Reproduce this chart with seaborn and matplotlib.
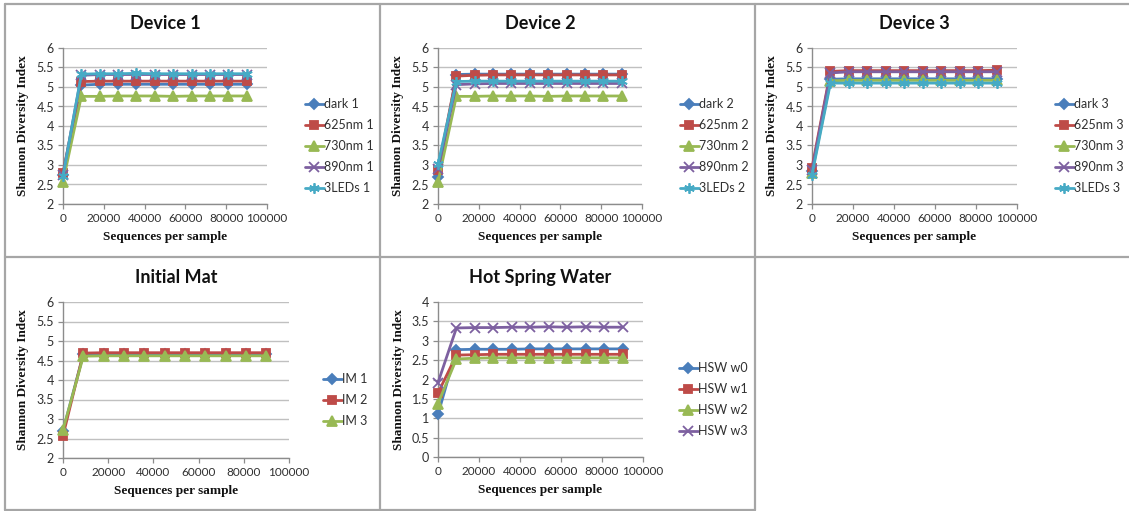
import numpy as np
import pandas as pd
import seaborn as sns
import matplotlib
matplotlib.use("Agg")
from matplotlib import pyplot as plt
from matplotlib.lines import Line2D
from matplotlib.ticker import FuncFormatter, MultipleLocator

# sequences per sample (rarefaction depth)
seqs = [0, 9000, 18000, 27000, 36000, 45000, 54000, 63000, 72000, 81000, 90000]

# Device 1
dark_1 = [2.75, 5.05, 5.07, 5.07, 5.07, 5.07, 5.07, 5.07, 5.07, 5.07, 5.07]
nm625_1 = [2.80, 5.14, 5.15, 5.15, 5.15, 5.15, 5.15, 5.15, 5.15, 5.15, 5.15]
nm730_1 = [2.57, 4.76, 4.76, 4.77, 4.77, 4.77, 4.76, 4.77, 4.77, 4.77, 4.77]
nm890_1 = [2.74, 5.30, 5.32, 5.32, 5.32, 5.32, 5.32, 5.32, 5.32, 5.32, 5.32]
leds_1 = [2.72, 5.33, 5.34, 5.34, 5.35, 5.34, 5.34, 5.34, 5.34, 5.34, 5.34]

# Device 2
dark_2 = [2.68, 5.32, 5.33, 5.33, 5.33, 5.33, 5.33, 5.33, 5.33, 5.33, 5.33]
nm625_2 = [2.88, 5.28, 5.30, 5.31, 5.31, 5.31, 5.31, 5.31, 5.31, 5.31, 5.31]
nm730_2 = [2.56, 4.76, 4.76, 4.77, 4.77, 4.77, 4.76, 4.77, 4.77, 4.77, 4.77]
nm890_2 = [2.90, 5.06, 5.08, 5.09, 5.09, 5.09, 5.09, 5.09, 5.09, 5.09, 5.09]
leds_2 = [3.02, 5.14, 5.15, 5.15, 5.15, 5.15, 5.15, 5.15, 5.15, 5.15, 5.15]

# Device 3
dark_3 = [2.85, 5.20, 5.21, 5.21, 5.21, 5.21, 5.21, 5.21, 5.21, 5.21, 5.21]
nm625_3 = [2.93, 5.40, 5.42, 5.42, 5.42, 5.42, 5.42, 5.42, 5.42, 5.42, 5.43]
nm730_3 = [2.80, 5.16, 5.17, 5.17, 5.17, 5.17, 5.17, 5.17, 5.17, 5.17, 5.17]
nm890_3 = [2.86, 5.36, 5.39, 5.39, 5.39, 5.39, 5.39, 5.39, 5.39, 5.39, 5.39]
leds_3 = [2.75, 5.10, 5.10, 5.10, 5.10, 5.10, 5.10, 5.10, 5.10, 5.10, 5.10]

# Initial mat
im_1 = [2.70, 4.66, 4.66, 4.66, 4.66, 4.66, 4.66, 4.66, 4.66, 4.66, 4.66]
im_2 = [2.57, 4.69, 4.70, 4.70, 4.70, 4.70, 4.70, 4.70, 4.70, 4.70, 4.70]
im_3 = [2.72, 4.61, 4.62, 4.62, 4.62, 4.62, 4.62, 4.62, 4.62, 4.62, 4.62]

# Hot spring water
hsw_w0 = [1.10, 2.77, 2.78, 2.78, 2.78, 2.79, 2.79, 2.79, 2.79, 2.79, 2.79]
hsw_w1 = [1.65, 2.63, 2.64, 2.65, 2.65, 2.65, 2.65, 2.65, 2.65, 2.65, 2.65]
hsw_w2 = [1.38, 2.53, 2.55, 2.56, 2.56, 2.56, 2.56, 2.56, 2.56, 2.56, 2.56]
hsw_w3 = [1.92, 3.33, 3.34, 3.34, 3.35, 3.35, 3.36, 3.35, 3.36, 3.35, 3.35]

BLUE, RED, GREEN, PURPLE, CYAN = "#4a7ebb", "#be4b48", "#98b954", "#7d60a0", "#46aac5"
COLS = [BLUE, RED, GREEN, PURPLE, CYAN]
MARKS = ["D", "s", "^", "x", (6, 2, 0)]
SIZES = [5, 6, 6.5, 6.5, 7.5]

panels = [
    ("Device 1", {"dark 1": dark_1, "625nm 1": nm625_1, "730nm 1": nm730_1,
                  "890nm 1": nm890_1, "3LEDs 1": leds_1},
     (63, 267, 48, 204), (2, 6), 1.186),
    ("Device 2", {"dark 2": dark_2, "625nm 2": nm625_2, "730nm 2": nm730_2,
                  "890nm 2": nm890_2, "3LEDs 2": leds_2},
     (438, 642, 48, 204), (2, 6), 1.186),
    ("Device 3", {"dark 3": dark_3, "625nm 3": nm625_3, "730nm 3": nm730_3,
                  "890nm 3": nm890_3, "3LEDs 3": leds_3},
     (812, 1017, 48, 204), (2, 6), 1.185),
    ("Initial Mat", {"IM 1": im_1, "IM 2": im_2, "IM 3": im_3},
     (63, 289, 302, 458), (2, 6), 1.15),
    ("Hot Spring Water", {"HSW w0": hsw_w0, "HSW w1": hsw_w1,
                          "HSW w2": hsw_w2, "HSW w3": hsw_w3},
     (438, 643, 302, 457), (0, 4), 1.176),
]

sns.set_theme(style="white")
plt.rcParams["font.family"] = ["Lato", "DejaVu Sans"]

W, H = 1129, 511
fig = plt.figure(figsize=(W / 100, H / 100), dpi=100)

for title, series, (x0, x1, y0, y1), ylim, leg_x in panels:
    ax = fig.add_axes([x0 / W, 1 - y1 / H, (x1 - x0) / W, (y1 - y0) / H])
    for i, (name, vals) in enumerate(series.items()):
        df = pd.DataFrame({"seq": seqs, "shannon": vals})
        sns.lineplot(data=df, x="seq", y="shannon", color=COLS[i],
                     marker=MARKS[i], markersize=SIZES[i],
                     markeredgecolor=COLS[i], markeredgewidth=1.3,
                     linewidth=2.0, label=name, ax=ax, clip_on=False,
                     zorder=3 + i)

    ax.set_xlim(0, 100000)
    ax.set_ylim(*ylim)
    ax.xaxis.set_major_locator(MultipleLocator(20000))
    ax.yaxis.set_major_locator(MultipleLocator(0.5))
    ax.yaxis.set_major_formatter(FuncFormatter(lambda v, p: f"{v:g}"))
    ax.grid(True, axis="y", color="#c0c0c0", linewidth=1.0)
    ax.set_axisbelow(True)
    for s in ["top", "right"]:
        ax.spines[s].set_visible(False)
    for s in ["left", "bottom"]:
        ax.spines[s].set_color("#8c8c8c")
        ax.spines[s].set_linewidth(1.0)
    ax.tick_params(axis="both", which="major", direction="out", length=3.5,
                   width=0.9, color="#8c8c8c", labelsize=8.5,
                   labelcolor="#303030", pad=3, left=True, bottom=True)
    ax.tick_params(axis="y", labelsize=9)

    ax.set_title(title, fontsize=13, fontweight="bold", color="#111111", pad=14)
    ax.set_xlabel("Sequences per sample", family="Liberation Serif",
                  fontweight="bold", fontsize=9.5, color="#111111")
    ax.xaxis.set_label_coords(0.5, -0.175)
    ax.set_ylabel("Shannon Diversity Index", family="Liberation Serif",
                  fontweight="bold", fontsize=9.5, color="#111111", labelpad=5)

    ax.legend(loc="center left", bbox_to_anchor=(leg_x, 0.37),
              frameon=False, fontsize=9, borderaxespad=0,
              borderpad=0, handletextpad=0.0, labelspacing=0.72,
              handlelength=1.5, labelcolor="#303030")

# cell borders
border = "#a6a6a6"
segs = [
    ((5, 1129), (4, 4)),
    ((5, 5), (4, 510)),
    ((380, 380), (4, 510)),
    ((755, 755), (4, 510)),
    ((5, 1129), (257, 257)),
    ((5, 755), (510, 510)),
]
for (xa, xb), (ya, yb) in segs:
    fig.add_artist(Line2D([xa / W, xb / W], [1 - ya / H, 1 - yb / H],
                          transform=fig.transFigure, color=border, linewidth=1.6))

fig.savefig("out.png", dpi=100)
